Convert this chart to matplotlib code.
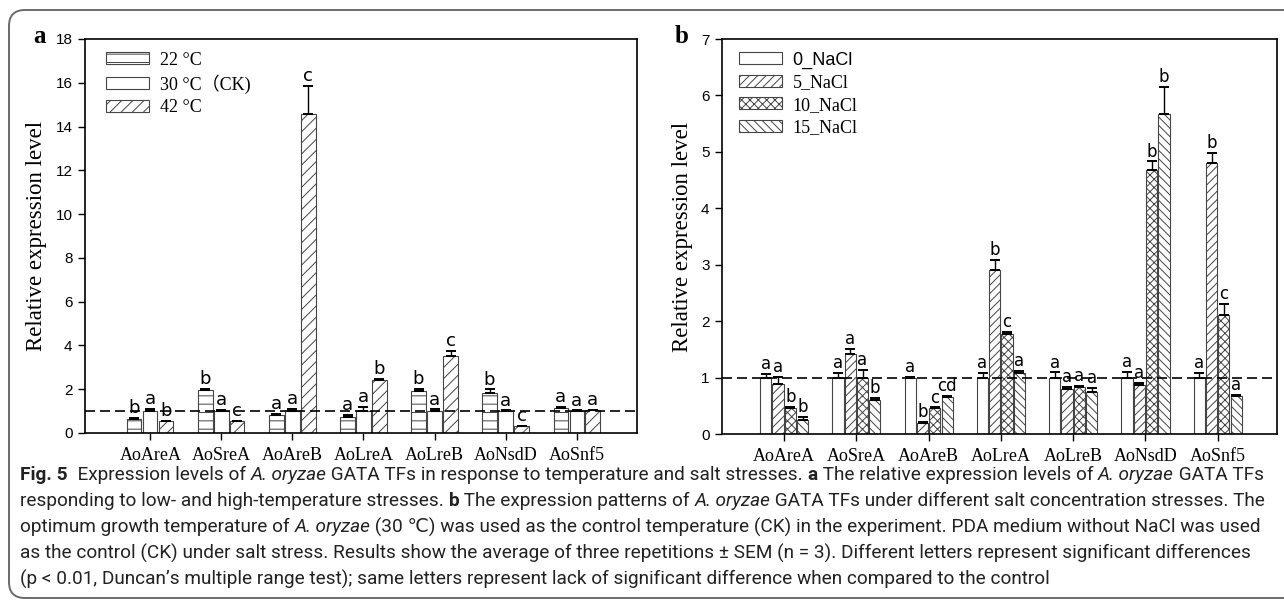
import numpy as np
import matplotlib
matplotlib.use("Agg")
import matplotlib.pyplot as plt
from matplotlib.patches import FancyBboxPatch
from matplotlib.transforms import IdentityTransform

# ---- data ----
genes = ["AoAreA", "AoSreA", "AoAreB", "AoLreA", "AoLreB", "AoNsdD", "AoSnf5"]

temp_labels = ["22 °C", "30 °C（CK)", "42 °C"]
t22 = [0.62, 1.97, 0.80, 0.75, 1.93, 1.82, 1.14]
t22_err = [0.06, 0.04, 0.08, 0.07, 0.08, 0.17, 0.04]
t30 = [1.0, 1.0, 1.0, 1.0, 1.0, 1.0, 1.0]
t30_err = [0.10, 0.06, 0.10, 0.20, 0.08, 0.03, 0.03]
t42 = [0.53, 0.53, 14.58, 2.42, 3.50, 0.30, 1.03]
t42_err = [0.02, 0.04, 1.28, 0.06, 0.25, 0.03, 0.04]
temp_letters = [["b", "a", "b"], ["b", "a", "c"], ["a", "a", "c"], ["a", "a", "b"],
                ["b", "a", "c"], ["b", "a", "c"], ["a", "a", "a"]]

salt_labels = ["0_NaCl", "5_NaCl", "10_NaCl", "15_NaCl"]
s0 = [1.0, 1.0, 1.0, 1.0, 1.0, 1.0, 1.0]
s0_err = [0.07, 0.08, 0.01, 0.08, 0.09, 0.10, 0.08]
s5 = [0.88, 1.42, 0.20, 2.91, 0.80, 0.86, 4.80]
s5_err = [0.13, 0.09, 0.01, 0.18, 0.04, 0.04, 0.18]
s10 = [0.46, 1.0, 0.46, 1.77, 0.83, 4.67, 2.11]
s10_err = [0.02, 0.14, 0.01, 0.04, 0.02, 0.16, 0.19]
s15 = [0.25, 0.61, 0.66, 1.08, 0.74, 5.67, 0.68]
s15_err = [0.06, 0.03, 0.02, 0.04, 0.08, 0.48, 0.02]
salt_letters = [["a", "a", "b", "b"], ["a", "a", "a", "b"], ["a", "b", "c", "cd"],
                ["a", "b", "c", "a"], ["a", "a", "a", "a"], ["a", "a", "b", "b"],
                ["a", "b", "c", "a"]]

caption_lines = [
    [("Fig. 5", "bold", "normal"), ("  Expression levels of ", "normal", "normal"), ("A. oryzae", "normal", "italic"),
     (" GATA TFs in response to temperature and salt stresses. ", "normal", "normal"), ("a", "bold", "normal"),
     (" The relative expression levels of ", "normal", "normal"), ("A. oryzae", "normal", "italic"),
     (" GATA TFs", "normal", "normal")],
    [("responding to low- and high-temperature stresses. ", "normal", "normal"), ("b", "bold", "normal"),
     (" The expression patterns of ", "normal", "normal"), ("A. oryzae", "normal", "italic"),
     (" GATA TFs under different salt concentration stresses. The", "normal", "normal")],
    [("optimum growth temperature of ", "normal", "normal"), ("A. oryzae", "normal", "italic"),
     (" (30 ℃) was used as the control temperature (CK) in the experiment. PDA medium without NaCl was used",
      "normal", "normal")],
    [("as the control (CK) under salt stress. Results show the average of three repetitions ± SEM (n = 3). "
      "Different letters represent significant differences", "normal", "normal")],
    [("(p < 0.01, Duncan’s multiple range test); same letters represent lack of significant difference "
      "when compared to the control", "normal", "normal")],
]

SERIF = ["Liberation Serif", "DejaVu Serif"]
NARROW = ["Liberation Sans Narrow", "Liberation Sans", "DejaVu Sans"]
CJK_SERIF = ["Liberation Serif", "Noto Sans CJK SC"]

W, H = 1284, 603
fig = plt.figure(figsize=(W / 100, H / 100), dpi=100)
plt.rcParams['hatch.linewidth'] = 0.7


def px_axes(left, top, right, bottom):
    return fig.add_axes([left / W, 1 - bottom / H, (right - left) / W, (bottom - top) / H])


def draw_panel(ax, series, errs, letters, hatches, width, step, xlim, ymax, yticks, legend_labels,
               leg_x, letter_size):
    x = np.arange(1, len(genes) + 1)
    n = len(series)
    handles = []
    for i in range(n):
        xi = x + (i - (n - 1) / 2) * step
        b = ax.bar(xi, series[i], width, color="white", edgecolor="#444444",
                   hatch=hatches[i], linewidth=0.8, zorder=2)
        handles.append(b)
        ax.errorbar(xi, series[i], yerr=[np.zeros(len(genes)), errs[i]], fmt="none",
                    ecolor="black", elinewidth=1.0, capsize=3.5, capthick=1.4, zorder=3)
        for j in range(len(genes)):
            ax.text(xi[j], series[i][j] + errs[i][j] + ymax * 0.002, letters[j][i],
                    ha="center", va="bottom", fontsize=letter_size, family="DejaVu Sans", zorder=4)
    ax.axhline(1.0, color="black", linestyle=(0, (6, 3)), linewidth=1.2, zorder=5)
    ax.set_xlim(*xlim)
    ax.set_ylim(0, ymax)
    ax.set_xticks(x)
    ax.set_xticklabels(genes, family=SERIF, fontsize=13)
    ax.set_yticks(yticks)
    ax.set_yticklabels([str(v) for v in yticks], family=NARROW, fontsize=11)
    ax.tick_params(axis="both", direction="out", length=5, width=1.0, color="black")
    ax.tick_params(axis="x", pad=5)
    ax.tick_params(axis="y", pad=4)
    for s in ax.spines.values():
        s.set_linewidth(1.2)
    ax.set_ylabel("Relative expression level", family=SERIF, fontsize=16.5, labelpad=6)
    leg = ax.legend(handles, legend_labels, loc="upper left", bbox_to_anchor=(leg_x, 1.0),
                    frameon=False, handlelength=2.4, handleheight=0.65, labelspacing=0.3,
                    handletextpad=0.6, borderaxespad=0.3, prop={"family": CJK_SERIF, "size": 13})
    return leg


# panel a
ax1 = px_axes(85, 39, 637, 433)
draw_panel(ax1, [t22, t30, t42], [t22_err, t30_err, t42_err], temp_letters,
           ["--", "", "///"], 0.2, 0.225, (0.08, 7.85), 18, list(range(0, 19, 2)), temp_labels,
           0.015, 13)

# panel b
ax2 = px_axes(722, 39, 1277, 434)
leg2 = draw_panel(ax2, [s0, s5, s10, s15], [s0_err, s5_err, s10_err, s15_err], salt_letters,
                  ["", "////", "xxxx", "\\\\\\\\"], 0.155, 0.17, (0.14, 7.82), 7, list(range(0, 8)),
                  salt_labels, 0.007, 12)
leg2.get_texts()[0].set_family(NARROW[1:])

fig.text(40 / W, 1 - 43 / H, "a", family=SERIF, fontweight="bold", fontsize=18, ha="center", va="baseline")
fig.text(682 / W, 1 - 43 / H, "b", family=SERIF, fontweight="bold", fontsize=18, ha="center", va="baseline")

# rounded border around the figure
fig.add_artist(FancyBboxPatch((9, 5), 1300, 588, boxstyle="round,pad=0,rounding_size=16",
                              transform=IdentityTransform(), facecolor="none",
                              edgecolor="#6a6a6a", linewidth=1.4))

# caption, drawn run by run
renderer = fig.canvas.get_renderer()
CAP_FONT = ["Roboto", "DejaVu Sans"]


def draw_line(runs, y, size, measure_only=False):
    x = 20
    texts = []
    for s, weight, style in runs:
        t = fig.text(x / W, 1 - y / H, s.replace(" ", "\u00a0"), family=CAP_FONT, fontsize=size,
                     fontweight=weight, fontstyle=style, va="baseline", ha="left", color="#222222")
        w = t.get_window_extent(renderer).width
        texts.append(t)
        x += w
    if measure_only:
        for t in texts:
            t.remove()
    return x - 20


base = 11.0
wmax = max(draw_line(r, 0, base, True) for r in caption_lines)
size = base * 1240 / wmax
for k, runs in enumerate(caption_lines):
    draw_line(runs, 480 + 26.2 * k, size)

fig.savefig("out.png", dpi=100)
